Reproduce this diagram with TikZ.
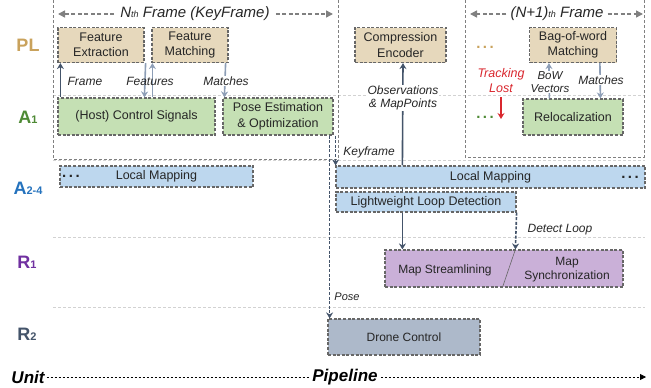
\documentclass[tikz,border=0pt]{standalone}
\usepackage{fontspec}
\setmainfont{Liberation Sans}
\usetikzlibrary{arrows.meta}

\definecolor{plfill}{HTML}{E6D8BC}
\definecolor{afill}{HTML}{C5E0B4}
\definecolor{bfill}{HTML}{BDD7EE}
\definecolor{rfill}{HTML}{CAB0D8}
\definecolor{dfill}{HTML}{ADB9CA}
\definecolor{boxline}{HTML}{676767}
\definecolor{framegray}{HTML}{808080}
\definecolor{sepgray}{HTML}{D2D2D2}
\definecolor{darkarrow}{HTML}{44546A}
\definecolor{lightarrow}{HTML}{8D9EB6}
\definecolor{txt}{HTML}{262626}
\definecolor{plc}{HTML}{C9A25C}
\definecolor{aonec}{HTML}{4E8A35}
\definecolor{atwoc}{HTML}{2472BD}
\definecolor{ronec}{HTML}{7030A0}
\definecolor{rtwoc}{HTML}{44546A}
\definecolor{lostred}{HTML}{D9272E}

\newcommand\rowsub[1]{{\fontsize{11}{11}\selectfont #1}}
\newcommand\ordsub[1]{{\fontsize{9}{9}\selectfont #1}}

\begin{document}
\begin{tikzpicture}[x=1pt,y=-1pt,
  box/.style={draw=boxline, dash pattern=on 3pt off 1.6pt, line width=1.2pt,
    inner sep=0pt, align=center, text=txt,
    font=\fontsize{12.5}{15.5}\selectfont},
  plbox/.style={box, fill=plfill},
  abox/.style={box, fill=afill},
  bbox/.style={box, fill=bfill},
  rbox/.style={box, fill=rfill},
  dbox/.style={box, fill=dfill},
  rowlab/.style={font=\fontsize{18}{18}\selectfont\bfseries, inner sep=0pt},
  lab/.style={font=\fontsize{12}{13.5}\selectfont\itshape, text=txt, inner sep=0.5pt, align=center},
  whitelab/.style={lab, fill=white},
  plain/.style={font=\fontsize{12}{14}\selectfont, text=txt, inner sep=0pt, align=center},
  darr/.style={draw=darkarrow, line width=1.6pt, -{Stealth[length=6pt,width=7pt,inset=2pt]}},
  ddarr/.style={darr, dash pattern=on 3pt off 1.6pt},
  larr/.style={draw=lightarrow, line width=1.6pt, -{Stealth[length=6pt,width=7pt,inset=2pt]}},
  framel/.style={draw=framegray, line width=1pt, dash pattern=on 3pt off 2pt},
  framearr/.style={draw=framegray, line width=1.5pt, dash pattern=on 4pt off 2.5pt, -{Triangle[length=7pt,width=7pt]}},
  sep/.style={draw=sepgray, line width=0.8pt, dash pattern=on 3pt off 2pt},
  dots/.style={font=\fontsize{15}{15}\selectfont\bfseries, inner sep=0pt}
]
\useasboundingbox (0,0) rectangle (651,388);

% lane separators
\foreach \yy in {95,160,237,307} \draw[sep] (53,\yy) -- (645,\yy);

% frame outlines
\draw[framel] (53,0) -- (53,159) -- (338,159) -- (338,0);
\draw[framel] (465,0) -- (465,157) -- (644,157) -- (644,0);

% frame titles
\node[inner sep=6pt, font=\fontsize{15}{15}\selectfont\itshape, text=txt] (nf) at (195,14)
  {N\ordsub{th} Frame (KeyFrame)};
\coordinate (nfl) at (58,14);
\coordinate (nfr) at (333,14);
\draw[framearr] (nf.west) -- (nfl);
\draw[framearr] (nf.east) -- (nfr);

\node[inner sep=4pt, font=\fontsize{15}{15}\selectfont\itshape, text=txt] (mf) at (557,14)
  {(N+1)\ordsub{th} Frame};
\coordinate (mfl) at (470,14);
\coordinate (mfr) at (643,14);
\draw[framearr] (mf.west) -- (mfl);
\draw[framearr] (mf.east) -- (mfr);

% row labels
\node[rowlab, text=plc] (lpl) at (28,45) {PL};
\node[rowlab, text=aonec] (la1) at (28,117) {A\rowsub{1}};
\node[rowlab, text=atwoc] (la2) at (28,188) {A\rowsub{2-4}};
\node[rowlab, text=ronec] (lr1) at (27,262) {R\rowsub{1}};
\node[rowlab, text=rtwoc] (lr2) at (27,334) {R\rowsub{2}};

% PL units
\node[plbox, minimum width=86pt, minimum height=35pt] (fe) at (101,45) {Feature\\Extraction};
\node[plbox, minimum width=76pt, minimum height=35pt] (fm) at (190,45) {Feature\\Matching};
\node[plbox, minimum width=91pt, minimum height=35pt] (ce) at (400.5,45) {Compression\\Encoder};
\node[plbox, minimum width=87pt, minimum height=35pt] (bow) at (573,45) {Bag-of-word\\Matching};

% A1 units
\node[abox, minimum width=157pt, minimum height=37pt] (hcs) at (136.5,116.5) {(Host) Control Signals};
\node[abox, minimum width=110pt, minimum height=37pt] (pe) at (278,116.5) {Pose Estimation\\\& Optimization};
\node[abox, minimum width=100pt, minimum height=36pt] (rl) at (573,117) {Relocalization};

% A2-4 units
\node[bbox, minimum width=193pt, minimum height=21pt] (lml) at (156.5,176.5) {Local Mapping};
\node[bbox, minimum width=309pt, minimum height=22pt] (lmr) at (490.5,177) {Local Mapping};
\node[bbox, minimum width=180pt, minimum height=20pt] (lld) at (426,202) {Lightweight Loop Detection};

% R1 and R2 units
\node[rbox, minimum width=238pt, minimum height=37pt] (map) at (504,268.5) {};
\draw[boxline, line width=0.6pt] ([xshift=131pt]map.north west) -- ([xshift=118pt]map.south west);
\node[plain] (ms) at (445,270) {Map Streamlining};
\node[plain] (msy) at (567,270) {Map\\Synchronization};
\node[dbox, minimum width=152pt, minimum height=36pt, font=\fontsize{12}{14}\selectfont] (dc) at (404,337) {Drone Control};

% ellipses
\node[dots, text=plc] (d1) at (485,47.5) {.\,.\,.};
\node[dots, text=aonec] (d2) at (485,117.5) {.\,.\,.};
\node[dots, text=txt] (d3) at (71,176.5) {.\,.\,.};
\node[dots, text=txt] (d4) at (630,177) {.\,.\,.};

% PL <-> A1 data flow (Nth frame)
\draw[darr] ([xshift=3pt]hcs.north west) -- ([xshift=3pt]fe.south west);
\node[lab] (lframe) at (85,81) {Frame};
\draw[larr] ([xshift=1pt]fe.south east) -- ([xshift=87pt]hcs.north west);
\draw[larr] ([xshift=95pt]hcs.north west) -- ([xshift=1pt]fm.south west);
\node[lab] (lfeat) at (150,81) {Features};
\draw[larr] ([xshift=-3pt]fm.south east) -- ([xshift=2pt]pe.north west);
\node[whitelab] (lmat) at (226,81) {Matches};

% observations to the encoder
\draw[darr] ([xshift=67pt]lmr.north west) -- ([xshift=2.5pt]ce.south);
\node[whitelab] (lobs) at (403,98) {Observations\\\& MapPoints};
\draw[darkarrow, line width=1.6pt] ([xshift=67pt]lmr.south west) -- ([xshift=67pt]lld.north west);

% relocalization (N+1th frame)
\node[lab, font=\fontsize{12.5}{14.5}\selectfont\itshape, text=lostred] (ltl) at (501,80.5) {Tracking\\Lost};
\coordinate (tlend) at (501,119);
\draw[darr, draw=lostred] ([yshift=-4pt]ltl.south) -- (tlend);
\draw[larr] ([xshift=27pt]rl.north west) -- ([xshift=20pt]bow.south west);
\node[whitelab, font=\fontsize{11.5}{13}\selectfont\itshape] (lbow) at (550,82) {BoW\\Vectors};
\draw[larr] ([xshift=71pt]bow.south west) -- ([xshift=78pt]rl.north west);
\node[whitelab] (lmat2) at (601,80) {Matches};

% keyframe and pose hand-off
\coordinate (kf) at ([xshift=2pt]pe.south east);
\draw[ddarr] (kf) -- (kf |- lmr.north);
\node[lab] (lkf) at (369,152) {Keyframe};
\coordinate (ps) at ([xshift=-4pt]pe.south east);
\draw[ddarr] (ps) -- (ps |- dc.north);
\node[lab, font=\fontsize{11}{12}\selectfont\itshape] (lpose) at (347,297) {Pose};

% loop detection into R1
\draw[darr] ([xshift=67pt]lld.south west) -- ([xshift=18pt]map.north west);
\draw[ddarr] (lld.south east) -- ([xshift=131pt]map.north west);
\node[lab] (ldl) at (560,230) {Detect Loop};

% unit / pipeline axis
\node[font=\fontsize{17}{17}\selectfont\bfseries\itshape, inner sep=2pt] (unit) at (28,377) {Unit};
\node[font=\fontsize{17}{17}\selectfont\bfseries\itshape, inner sep=3pt] (pipe) at (345,377) {Pipeline};
\coordinate (axend) at (646,377);
\draw[black, line width=0.8pt, dash pattern=on 2.5pt off 1.5pt] (unit.east) -- (pipe.west);
\draw[black, line width=0.8pt, dash pattern=on 2.5pt off 1.5pt, -{Triangle[length=6pt,width=6pt]}] (pipe.east) -- (axend);
\end{tikzpicture}
\end{document}
